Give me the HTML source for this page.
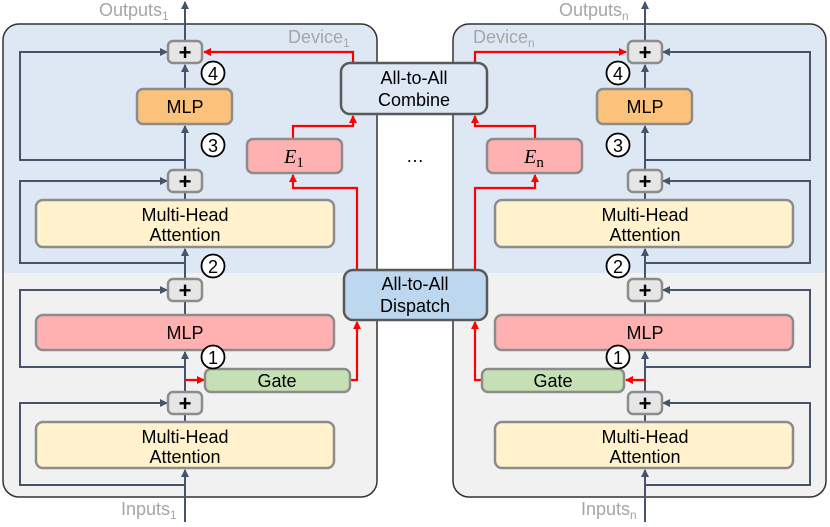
<!DOCTYPE html>
<html><head><meta charset="utf-8"><style>
html,body{margin:0;padding:0;background:#fff}
svg text{font-family:"Liberation Sans",sans-serif}
</style></head><body>
<svg width="830" height="522" viewBox="0 0 830 522" xmlns="http://www.w3.org/2000/svg">
<defs>
<marker id="ab" markerWidth="8" markerHeight="8" refX="7" refY="4" orient="auto" markerUnits="userSpaceOnUse"><path d="M0,0 L8,4 L0,8 z" fill="#44546a"/></marker>
<marker id="ar" markerWidth="8" markerHeight="8" refX="7" refY="4" orient="auto" markerUnits="userSpaceOnUse"><path d="M0,0 L8,4 L0,8 z" fill="#ff0000"/></marker>
<clipPath id="c1"><rect x="3" y="24" width="374" height="473" rx="16"/></clipPath>
<clipPath id="c2"><rect x="453" y="24" width="373" height="473" rx="16"/></clipPath>
</defs>
<g clip-path="url(#c1)"><rect x="3" y="24" width="374" height="249" fill="#dee8f4"/><rect x="3" y="273" width="374" height="224" fill="#f1f1f1"/></g>
<rect x="3" y="24" width="374" height="473" rx="16" fill="none" stroke="#333" stroke-width="1.5"/>
<g clip-path="url(#c2)"><rect x="453" y="24" width="373" height="249" fill="#dee8f4"/><rect x="453" y="273" width="373" height="224" fill="#f1f1f1"/></g>
<rect x="453" y="24" width="373" height="473" rx="16" fill="none" stroke="#333" stroke-width="1.5"/>

<g font-size="18" fill="#a6a6a6">
<text x="288" y="43">Device<tspan font-size="12" dy="4">1</tspan></text>
<text x="473" y="43">Device<tspan font-size="12" dy="4">n</tspan></text>
<text x="99" y="16">Outputs<tspan font-size="12" dy="4">1</tspan></text>
<text x="559" y="16">Outputs<tspan font-size="12" dy="4">n</tspan></text>
<text x="121" y="515">Inputs<tspan font-size="12" dy="4">1</tspan></text>
<text x="581" y="515">Inputs<tspan font-size="12" dy="4">n</tspan></text>
</g>

<g stroke="#44546a" stroke-width="2" fill="none">
<line x1="185" y1="522" x2="185" y2="470" marker-end="url(#ab)"/>
<polyline points="185,485 20,485 20,403 167,403" marker-end="url(#ab)"/>
<line x1="185" y1="422" x2="185" y2="414"/>
<line x1="185" y1="392" x2="185" y2="352" marker-end="url(#ab)"/>
<polyline points="185,367 20,367 20,290 167,290" marker-end="url(#ab)"/>
<line x1="185" y1="315" x2="185" y2="301"/>
<line x1="185" y1="279" x2="185" y2="249" marker-end="url(#ab)"/>
<polyline points="185,263 20,263 20,181 167,181" marker-end="url(#ab)"/>
<line x1="185" y1="200" x2="185" y2="192"/>
<line x1="185" y1="170" x2="185" y2="126" marker-end="url(#ab)"/>
<polyline points="185,160 20,160 20,52 167,52" marker-end="url(#ab)"/>
<line x1="185" y1="89" x2="185" y2="65" marker-end="url(#ab)"/>
<line x1="185" y1="41" x2="185" y2="2" marker-end="url(#ab)"/>
</g>
<g stroke="#44546a" stroke-width="2" fill="none">
<line x1="645" y1="522" x2="645" y2="470" marker-end="url(#ab)"/>
<polyline points="645,485 810,485 810,403 663,403" marker-end="url(#ab)"/>
<line x1="645" y1="422" x2="645" y2="414"/>
<line x1="645" y1="392" x2="645" y2="352" marker-end="url(#ab)"/>
<polyline points="645,367 810,367 810,290 663,290" marker-end="url(#ab)"/>
<line x1="645" y1="315" x2="645" y2="301"/>
<line x1="645" y1="279" x2="645" y2="249" marker-end="url(#ab)"/>
<polyline points="645,263 810,263 810,181 663,181" marker-end="url(#ab)"/>
<line x1="645" y1="200" x2="645" y2="192"/>
<line x1="645" y1="170" x2="645" y2="126" marker-end="url(#ab)"/>
<polyline points="645,160 810,160 810,52 663,52" marker-end="url(#ab)"/>
<line x1="645" y1="89" x2="645" y2="65" marker-end="url(#ab)"/>
<line x1="645" y1="41" x2="645" y2="2" marker-end="url(#ab)"/>
</g>
<g stroke="#ff0000" stroke-width="2.2" fill="none">
<line x1="185" y1="380" x2="204" y2="380" marker-end="url(#ar)"/>
<polyline points="350,380 357,380 357,322" marker-end="url(#ar)"/>
<polyline points="357,270 357,188 293,188 293,175" marker-end="url(#ar)"/>
<polyline points="293,139 293,126 353,126 353,116" marker-end="url(#ar)"/>
<polyline points="353,63 353,52 204,52" marker-end="url(#ar)"/>
<line x1="645" y1="380" x2="626" y2="380" marker-end="url(#ar)"/>
<polyline points="482,380 475,380 475,322" marker-end="url(#ar)"/>
<polyline points="475,270 475,188 535,188 535,175" marker-end="url(#ar)"/>
<polyline points="535,139 535,126 475,126 475,116" marker-end="url(#ar)"/>
<polyline points="475,63 475,52 626,52" marker-end="url(#ar)"/>
</g>

<g stroke="#8c8c8c" stroke-width="2.5">
<rect x="137" y="89" width="95" height="35" rx="6" fill="#fac27a"/>
<rect x="36" y="200" width="298" height="47" rx="7" fill="#fff2cc"/>
<rect x="36" y="315" width="298" height="35" rx="7" fill="#ffb0b0"/>
<rect x="205" y="369" width="145" height="23" rx="6" fill="#c5e0b4"/>
<rect x="36" y="422" width="298" height="46" rx="7" fill="#fff2cc"/>
<rect x="247" y="139" width="95" height="34" rx="6" fill="#ffb0b0"/>
<rect x="597" y="89" width="95" height="35" rx="6" fill="#fac27a"/>
<rect x="495" y="200" width="298" height="47" rx="7" fill="#fff2cc"/>
<rect x="495" y="315" width="298" height="35" rx="7" fill="#ffb0b0"/>
<rect x="482" y="369" width="142" height="23" rx="6" fill="#c5e0b4"/>
<rect x="495" y="422" width="298" height="46" rx="7" fill="#fff2cc"/>
<rect x="487" y="139" width="95" height="34" rx="6" fill="#ffb0b0"/>
</g>
<g stroke="#595959" stroke-width="2.5">
<rect x="341" y="63" width="146" height="51" rx="9" fill="#dee8f4"/>
<rect x="344" y="270" width="143" height="50" rx="9" fill="#bdd7ee"/>
</g>
<g stroke="#8c8c8c" stroke-width="2.5" fill="#e6e6e6">
<rect x="168" y="41" width="34" height="22" rx="5"/><rect x="168" y="170" width="34" height="22" rx="5"/>
<rect x="168" y="279" width="34" height="22" rx="5"/><rect x="168" y="392" width="34" height="22" rx="5"/>
<rect x="628" y="41" width="34" height="22" rx="5"/><rect x="628" y="170" width="34" height="22" rx="5"/>
<rect x="628" y="279" width="34" height="22" rx="5"/><rect x="628" y="392" width="34" height="22" rx="5"/>
</g>
<g font-size="22" font-weight="bold" text-anchor="middle" fill="#000">
<text x="185" y="60">+</text><text x="185" y="189">+</text><text x="185" y="298">+</text><text x="185" y="411">+</text>
<text x="645" y="60">+</text><text x="645" y="189">+</text><text x="645" y="298">+</text><text x="645" y="411">+</text>
</g>
<g stroke="#000" stroke-width="1.8" fill="#fff">
<circle cx="213" cy="73" r="11.5"/><circle cx="213" cy="145" r="11.5"/><circle cx="213" cy="266" r="11.5"/><circle cx="213" cy="357" r="11.5"/>
<circle cx="618" cy="73" r="11.5"/><circle cx="618" cy="145" r="11.5"/><circle cx="618" cy="266" r="11.5"/><circle cx="618" cy="357" r="11.5"/>
</g>
<g font-size="18" text-anchor="middle" fill="#000">
<text x="213" y="80">4</text><text x="213" y="152">3</text><text x="213" y="273">2</text><text x="213" y="364">1</text>
<text x="618" y="80">4</text><text x="618" y="152">3</text><text x="618" y="273">2</text><text x="618" y="364">1</text>
</g>
<g font-size="18" text-anchor="middle" fill="#000">
<text x="185" y="113">MLP</text>
<text x="185" y="221">Multi-Head</text><text x="185" y="241">Attention</text>
<text x="185" y="339">MLP</text>
<text x="277" y="387">Gate</text>
<text x="185" y="443">Multi-Head</text><text x="185" y="463">Attention</text>
<text x="645" y="113">MLP</text>
<text x="645" y="221">Multi-Head</text><text x="645" y="241">Attention</text>
<text x="645" y="339">MLP</text>
<text x="553" y="387">Gate</text>
<text x="645" y="443">Multi-Head</text><text x="645" y="463">Attention</text>
<text x="414" y="84">All-to-All</text><text x="414" y="106">Combine</text>
<text x="415" y="290">All-to-All</text><text x="415" y="312">Dispatch</text>
<text x="415" y="162">…</text>
</g>
<g font-size="20" text-anchor="middle" fill="#000">
<text x="294" y="163" style="font-family:'Liberation Serif',serif"><tspan font-style="italic">E</tspan><tspan font-size="15" dy="4">1</tspan></text>
<text x="534" y="163" style="font-family:'Liberation Serif',serif"><tspan font-style="italic">E</tspan><tspan font-size="15" dy="4">n</tspan></text>
</g>
</svg>
</body></html>
